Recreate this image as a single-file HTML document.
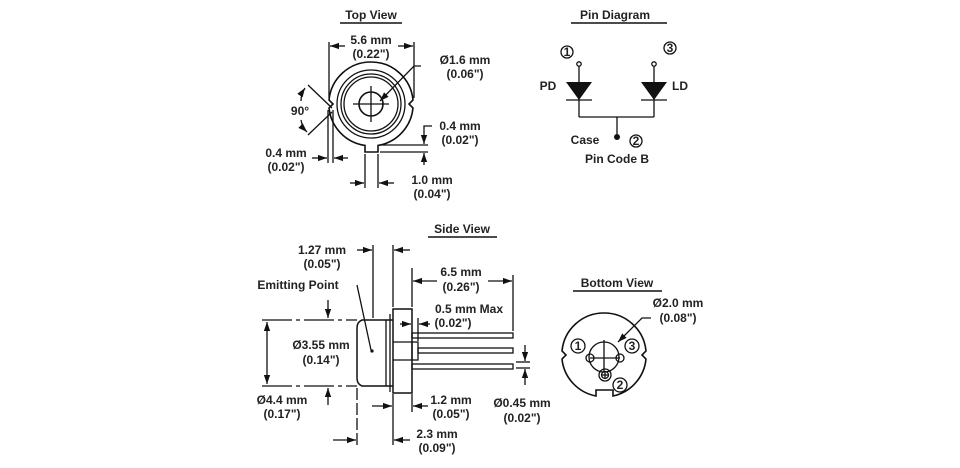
<!DOCTYPE html>
<html><head><style>
html,body{margin:0;padding:0;background:#fff}
svg{display:block}
text{font-family:"Liberation Sans",sans-serif;font-size:12px;font-weight:bold;fill:#222}
</style></head><body>
<svg width="960" height="468" viewBox="0 0 960 468" xmlns="http://www.w3.org/2000/svg">
<defs>
<marker id="a" viewBox="0 0 10 10" refX="10" refY="5" markerWidth="7" markerHeight="7" orient="auto-start-reverse"><path d="M0,1.5 L10,5 L0,8.5 z" fill="#111"/></marker>
</defs>
<g stroke="#111" fill="none" stroke-width="1.3">
<!-- TOP VIEW -->
<line x1="340" y1="23" x2="402" y2="23" stroke-width="1.5"/>
<path d="M371,62 A42,42 0 0 1 413,100 L409,104 L413,108 A42,42 0 0 1 378,145.4 L378,152 L365,152 L365,145.4 A42,42 0 0 1 329,108 L333,104 L329,100 A42,42 0 0 1 371,62 Z" stroke-width="1.6"/>
<circle cx="371" cy="104" r="34"/>
<circle cx="371" cy="104" r="30"/>
<circle cx="371" cy="104" r="27"/>
<circle cx="371" cy="104" r="12" stroke-width="1.6"/>
<line x1="353" y1="104" x2="389" y2="104"/>
<line x1="371" y1="86" x2="371" y2="122"/>
<line x1="329" y1="42" x2="329" y2="98"/>
<line x1="414" y1="42" x2="414" y2="98"/>
<line x1="345" y1="46" x2="330" y2="46" marker-end="url(#a)"/>
<line x1="398" y1="46" x2="413" y2="46" marker-end="url(#a)"/>
<polyline points="421,66 414,66 380,101" marker-end="url(#a)"/>
<line x1="308" y1="85" x2="332" y2="108"/>
<line x1="308" y1="135" x2="332" y2="112"/>
<path d="M301,101 Q301,94 305,88" marker-end="url(#a)"/>
<path d="M301,120 Q302,127 307,132" marker-end="url(#a)"/>
<line x1="328" y1="110" x2="328" y2="163"/>
<line x1="333" y1="110" x2="333" y2="163"/>
<line x1="312" y1="158" x2="327" y2="158" marker-end="url(#a)"/>
<line x1="348" y1="158" x2="334" y2="158" marker-end="url(#a)"/>
<line x1="380" y1="145" x2="428" y2="145"/>
<line x1="380" y1="152" x2="428" y2="152"/>
<polyline points="432,126 424,126 424,144" marker-end="url(#a)"/>
<line x1="424" y1="165" x2="424" y2="153" marker-end="url(#a)"/>
<line x1="365" y1="154" x2="365" y2="188"/>
<line x1="378" y1="154" x2="378" y2="188"/>
<line x1="350" y1="183" x2="364" y2="183" marker-end="url(#a)"/>
<line x1="394" y1="183" x2="379" y2="183" marker-end="url(#a)"/>
<!-- PIN DIAGRAM -->
<line x1="571" y1="23" x2="667" y2="23" stroke-width="1.5"/>
<circle cx="567" cy="52" r="6"/>
<circle cx="670" cy="48" r="6"/>
<circle cx="579" cy="64" r="2.2"/>
<circle cx="654" cy="64" r="2.2"/>
<line x1="579" y1="66" x2="579" y2="117"/>
<line x1="654" y1="66" x2="654" y2="117"/>
<line x1="566" y1="100" x2="592" y2="100"/>
<line x1="641" y1="100" x2="667" y2="100"/>
<line x1="579" y1="117" x2="654" y2="117"/>
<line x1="617" y1="117" x2="617" y2="136"/>
<circle cx="636" cy="141" r="6"/>
<!-- SIDE VIEW -->
<line x1="428" y1="237" x2="497" y2="237" stroke-width="1.5"/>
<path d="M393,320 L362,320 Q357,322 357,328 L357,378 Q357,384 362,386 L393,386" stroke-width="1.5"/>
<line x1="386" y1="320" x2="386" y2="386"/>
<line x1="390" y1="314" x2="390" y2="392"/>
<rect x="393" y="309" width="19" height="84" stroke-width="1.5"/>
<line x1="393" y1="342" x2="412" y2="342"/>
<line x1="393" y1="360" x2="412" y2="360"/>
<rect x="412" y="342" width="6" height="18"/>
<rect x="412" y="333" width="101" height="5"/>
<rect x="418" y="348" width="95" height="5"/>
<rect x="412" y="364" width="101" height="5"/>
<line x1="373" y1="245" x2="373" y2="318"/>
<line x1="393" y1="245" x2="393" y2="307"/>
<line x1="357" y1="250" x2="372" y2="250" marker-end="url(#a)"/>
<line x1="410" y1="250" x2="394" y2="250" marker-end="url(#a)"/>
<line x1="357" y1="285" x2="371" y2="350"/>
<circle cx="372" cy="351" r="1" fill="#111"/>
<line x1="262" y1="320" x2="357" y2="320" stroke-dasharray="30,4,4,4"/>
<line x1="262" y1="386" x2="357" y2="386" stroke-dasharray="30,4,4,4"/>
<line x1="267" y1="322" x2="267" y2="384" marker-start="url(#a)" marker-end="url(#a)"/>
<line x1="328" y1="300" x2="328" y2="318" marker-end="url(#a)"/>
<line x1="328" y1="405" x2="328" y2="388" marker-end="url(#a)"/>
<line x1="357" y1="388" x2="357" y2="445" stroke-dasharray="12,3"/>
<line x1="412" y1="268" x2="412" y2="307"/>
<line x1="513" y1="275" x2="513" y2="331"/>
<line x1="437" y1="281" x2="413" y2="281" marker-end="url(#a)"/>
<line x1="488" y1="281" x2="512" y2="281" marker-end="url(#a)"/>
<line x1="400" y1="324" x2="411" y2="324" marker-end="url(#a)"/>
<line x1="430" y1="324" x2="419" y2="324" marker-end="url(#a)"/>
<line x1="418" y1="318" x2="418" y2="341"/>
<line x1="393" y1="394" x2="393" y2="445"/>
<line x1="412" y1="394" x2="412" y2="412"/>
<line x1="372" y1="406" x2="392" y2="406" marker-end="url(#a)"/>
<line x1="428" y1="406" x2="413" y2="406" marker-end="url(#a)"/>
<line x1="333" y1="440" x2="356" y2="440" marker-end="url(#a)"/>
<line x1="410" y1="440" x2="394" y2="440" marker-end="url(#a)"/>
<line x1="516" y1="362" x2="530" y2="362"/>
<line x1="516" y1="368" x2="530" y2="368"/>
<line x1="525" y1="345" x2="525" y2="361" marker-end="url(#a)"/>
<line x1="525" y1="385" x2="525" y2="369" marker-end="url(#a)"/>
<!-- BOTTOM VIEW -->
<line x1="573" y1="291" x2="662" y2="291" stroke-width="1.5"/>
<path d="M604,313 A42,42 0 0 1 646,351 L642,355 L646,359 A42,42 0 0 1 613,396 L613,390 L596,390 L596,396 A42,42 0 0 1 562,359 L566,355 L562,351 A42,42 0 0 1 604,313 Z" stroke-width="1.6"/>
<circle cx="604" cy="357" r="15"/>
<line x1="590" y1="358" x2="620" y2="358"/>
<line x1="604" y1="340" x2="604" y2="372"/>
<circle cx="590" cy="358" r="4"/>
<circle cx="620" cy="358" r="4"/>
<circle cx="605" cy="375" r="6"/>
<circle cx="605" cy="375" r="3.5"/>
<line x1="601" y1="375" x2="609" y2="375"/>
<line x1="605" y1="371" x2="605" y2="379"/>
<circle cx="578" cy="346" r="7"/>
<circle cx="632" cy="346" r="7"/>
<circle cx="620" cy="385" r="7"/>
<polyline points="651,318 642,318 618,342" marker-end="url(#a)"/>
</g>
<g fill="#111">
<path d="M566,82 L592,82 L579,100 Z"/>
<path d="M641,82 L667,82 L654,100 Z"/>
<circle cx="617" cy="137" r="3"/>
</g>
<g text-anchor="middle">
<text x="371" y="19">Top View</text>
<text x="371" y="44">5.6 mm</text>
<text x="371" y="58">(0.22")</text>
<text x="465" y="64">Ø1.6 mm</text>
<text x="465" y="78">(0.06")</text>
<text x="300" y="115">90°</text>
<text x="286" y="157">0.4 mm</text>
<text x="286" y="171">(0.02")</text>
<text x="460" y="130">0.4 mm</text>
<text x="460" y="144">(0.02")</text>
<text x="432" y="184">1.0 mm</text>
<text x="432" y="198">(0.04")</text>
<text x="615" y="19">Pin Diagram</text>
<text x="567" y="56" font-size="11">1</text>
<text x="670" y="52" font-size="11">3</text>
<text x="636" y="145" font-size="11">2</text>
<text x="548" y="90">PD</text>
<text x="680" y="90">LD</text>
<text x="585" y="144">Case</text>
<text x="617" y="163">Pin Code B</text>
<text x="462" y="233">Side View</text>
<text x="322" y="254">1.27 mm</text>
<text x="322" y="268">(0.05")</text>
<text x="298" y="289">Emitting Point</text>
<text x="321" y="349">Ø3.55 mm</text>
<text x="321" y="364">(0.14")</text>
<text x="282" y="404">Ø4.4 mm</text>
<text x="282" y="418">(0.17")</text>
<text x="461" y="276">6.5 mm</text>
<text x="461" y="291">(0.26")</text>
<text x="469" y="313">0.5 mm Max</text>
<text x="453" y="327">(0.02")</text>
<text x="451" y="404">1.2 mm</text>
<text x="451" y="418">(0.05")</text>
<text x="437" y="438">2.3 mm</text>
<text x="437" y="452">(0.09")</text>
<text x="522" y="407">Ø0.45 mm</text>
<text x="522" y="422">(0.02")</text>
<text x="617" y="287">Bottom View</text>
<text x="678" y="307">Ø2.0 mm</text>
<text x="678" y="322">(0.08")</text>
<text x="578" y="350" font-size="11">1</text>
<text x="632" y="350" font-size="11">3</text>
<text x="620" y="389" font-size="11">2</text>
</g>
</svg>
</body></html>
